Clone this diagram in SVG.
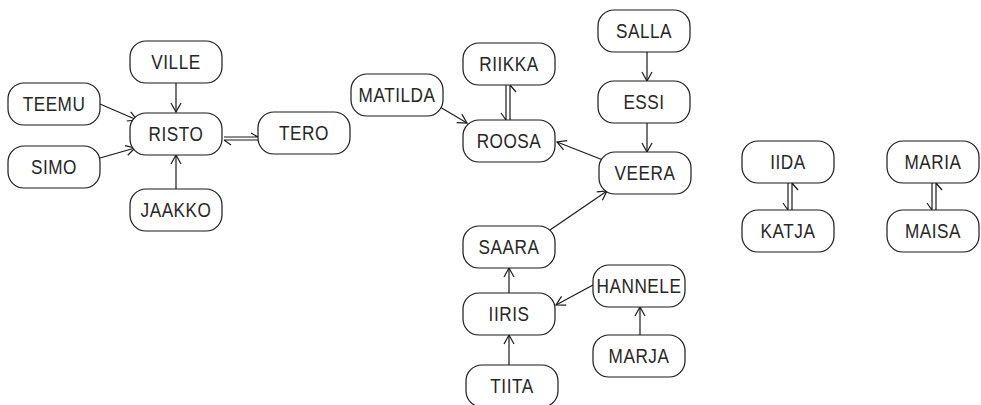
<svg xmlns="http://www.w3.org/2000/svg" width="981" height="405" viewBox="0 0 981 405">
  <defs>
    <marker id="arrow" markerUnits="userSpaceOnUse" markerWidth="14" markerHeight="14" viewBox="-10 -7 12 14" refX="0" refY="0" orient="auto">
      <path d="M-9,-5 L0,0 L-9,5" fill="none" stroke="#1a1a1a" stroke-width="1.2"/>
    </marker>
    <rect id="box" x="-46" y="-21" width="92" height="42" rx="16" ry="16"/>
  </defs>
  <style>
    .node use { fill: #ffffff; stroke: #1a1a1a; stroke-width: 1.2; }
    .node text { font-family: "Liberation Sans", Arial, sans-serif; font-size: 20px; fill: #262626; text-anchor: middle; letter-spacing: 0.6px; }
    .edges path { fill: none; stroke: #1a1a1a; stroke-width: 1.2; }
    .edges .arr { marker-end: url(#arrow); }
  </style>

  <rect width="981" height="405" fill="#ffffff"/>

  <!-- connectors -->
  <g class="edges" id="edges">
    <path class="arr" d="M176,83 L176,112"/>
    <path class="arr" d="M100,104 L137,120"/>
    <path class="arr" d="M100,158 L135,148"/>
    <path class="arr" d="M176,189 L176,155"/>
    <path class="arr" d="M440,107 L467,123"/>
    <path class="arr" d="M603,160 L557,142"/>
    <path class="arr" d="M647,52 L647,81"/>
    <path class="arr" d="M647,123 L647,152"/>
    <path class="arr" d="M550,230 L607,191"/>
    <path class="arr" d="M509,293 L509,268"/>
    <path class="arr" d="M509,365 L509,335"/>
    <path class="arr" d="M593,285 L556,305"/>
    <path class="arr" d="M640,335 L640,307"/>
    <!-- two-way links: paired lines with half barbs -->
    <path d="M224,137 L258,137 M258,137 L251,133 M224,140 L258,140 M224,140 L231,145"/>
    <path d="M506,85 L506,120 M506,120 L501,113 M510,85 L510,120 M510,85 L516,92"/>
    <path d="M788,183 L788,210 M788,210 L783,203 M792,183 L792,210 M792,183 L798,190"/>
    <path d="M932,183 L932,210 M932,210 L927,203 M936,183 L936,210 M936,183 L942,190"/>
  </g>

  <!-- nodes -->
  <g class="node" id="ville" transform="translate(176,62)"><use href="#box"/><text y="7" transform="scale(0.86,1)">VILLE</text></g>
  <g class="node" id="teemu" transform="translate(54,104)"><use href="#box"/><text y="7" transform="scale(0.86,1)">TEEMU</text></g>
  <g class="node" id="simo" transform="translate(54,167)"><use href="#box"/><text y="7" transform="scale(0.86,1)">SIMO</text></g>
  <g class="node" id="risto" transform="translate(176,134)"><use href="#box"/><text y="7" transform="scale(0.86,1)">RISTO</text></g>
  <g class="node" id="tero" transform="translate(304,133)"><use href="#box"/><text y="7" transform="scale(0.86,1)">TERO</text></g>
  <g class="node" id="jaakko" transform="translate(176,210)"><use href="#box"/><text y="7" transform="scale(0.86,1)">JAAKKO</text></g>
  <g class="node" id="matilda" transform="translate(397,95)"><use href="#box"/><text y="7" transform="scale(0.86,1)">MATILDA</text></g>
  <g class="node" id="riikka" transform="translate(509,64)"><use href="#box"/><text y="7" transform="scale(0.86,1)">RIIKKA</text></g>
  <g class="node" id="roosa" transform="translate(509,141)"><use href="#box"/><text y="7" transform="scale(0.86,1)">ROOSA</text></g>
  <g class="node" id="salla" transform="translate(644,31)"><use href="#box"/><text y="7" transform="scale(0.86,1)">SALLA</text></g>
  <g class="node" id="essi" transform="translate(644,102)"><use href="#box"/><text y="7" transform="scale(0.86,1)">ESSI</text></g>
  <g class="node" id="veera" transform="translate(645,173)"><use href="#box"/><text y="7" transform="scale(0.86,1)">VEERA</text></g>
  <g class="node" id="saara" transform="translate(509,247)"><use href="#box"/><text y="7" transform="scale(0.86,1)">SAARA</text></g>
  <g class="node" id="iiris" transform="translate(509,314)"><use href="#box"/><text y="7" transform="scale(0.86,1)">IIRIS</text></g>
  <g class="node" id="tiita" transform="translate(512,386)"><use href="#box"/><text y="7" transform="scale(0.86,1)">TIITA</text></g>
  <g class="node" id="hannele" transform="translate(639,286)"><use href="#box"/><text y="7" transform="scale(0.86,1)">HANNELE</text></g>
  <g class="node" id="marja" transform="translate(639,356)"><use href="#box"/><text y="7" transform="scale(0.86,1)">MARJA</text></g>
  <g class="node" id="iida" transform="translate(788,162)"><use href="#box"/><text y="7" transform="scale(0.86,1)">IIDA</text></g>
  <g class="node" id="katja" transform="translate(788,231)"><use href="#box"/><text y="7" transform="scale(0.86,1)">KATJA</text></g>
  <g class="node" id="maria" transform="translate(933,162)"><use href="#box"/><text y="7" transform="scale(0.86,1)">MARIA</text></g>
  <g class="node" id="maisa" transform="translate(933,231)"><use href="#box"/><text y="7" transform="scale(0.86,1)">MAISA</text></g>
</svg>
